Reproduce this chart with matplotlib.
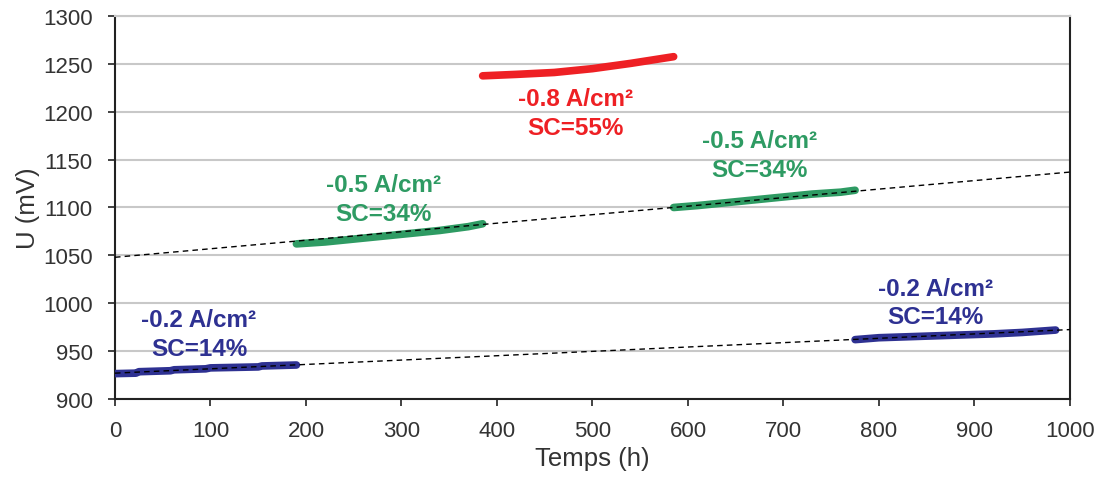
import matplotlib.pyplot as plt

plt.rcParams['font.family'] = ['Liberation Sans', 'DejaVu Sans']

# values (time in h, voltage in mV)
blue1_t = [0, 22, 25, 58, 62, 95, 100, 150, 154, 190]
blue1_u = [926.5, 927, 928.5, 929.5, 930.5, 931.5, 932.5, 933.5, 934.5, 935.5]
green1_t = [190, 220, 250, 280, 310, 340, 370, 385]
green1_u = [1062, 1064, 1067, 1070, 1073, 1076, 1080, 1083]
red_t = [385, 420, 460, 500, 540, 585]
red_u = [1237.5, 1239, 1241, 1245, 1250.5, 1257.5]
green2_t = [585, 610, 640, 670, 700, 730, 760, 775]
green2_u = [1100, 1102, 1105, 1108, 1111, 1114, 1116, 1118]
blue2_t = [775, 800, 830, 860, 890, 920, 950, 985]
blue2_u = [962, 964, 965, 966, 967, 968, 969.5, 972]

# dashed trend lines
trend_low_t = [0, 1000]
trend_low_u = [927, 972.5]
trend_high_t = [0, 1000]
trend_high_u = [1048, 1137]

BLUE = '#2e3192'
GREEN = '#2e9b63'
RED = '#ee2024'

fig = plt.figure(figsize=(10.99, 4.81), dpi=100)
ax = fig.add_axes([0.1046, 0.1684, 0.869, 0.7963])

for t, u, c in [(blue1_t, blue1_u, BLUE), (green1_t, green1_u, GREEN),
                (red_t, red_u, RED), (green2_t, green2_u, GREEN),
                (blue2_t, blue2_u, BLUE)]:
    ax.plot(t, u, color=c, lw=5.5, solid_capstyle='round', zorder=3)

ax.plot(trend_low_t, trend_low_u, ls=(0, (4, 3)), color='black', lw=1, zorder=4)
ax.plot(trend_high_t, trend_high_u, ls=(0, (4, 3)), color='black', lw=1, zorder=4)

labels = [
    (88, 968, '-0.2 A/cm²\nSC=14%', BLUE),
    (281, 1109, '-0.5 A/cm²\nSC=34%', GREEN),
    (482, 1198.5, '-0.8 A/cm²\nSC=55%', RED),
    (675, 1155, '-0.5 A/cm²\nSC=34%', GREEN),
    (859, 1000.5, '-0.2 A/cm²\nSC=14%', BLUE),
]
for x, y, s, c in labels:
    ax.text(x, y, s, color=c, fontsize=17.5, fontweight='bold',
            ha='center', va='center', linespacing=1.3)

ax.set_xlim(0, 1000)
ax.set_ylim(900, 1300)
ax.set_xticks(range(0, 1001, 100))
ax.set_yticks(range(900, 1301, 50))
ax.yaxis.grid(True, color='#c8c8c8', lw=1.5)
ax.set_axisbelow(True)
ax.tick_params(direction='out', length=5, width=1.2, labelsize=16,
               colors='#222222', labelcolor='#333333')
ax.tick_params(axis='x', pad=10)
ax.tick_params(axis='y', pad=11)
for side in ['left', 'bottom', 'right']:
    ax.spines[side].set_linewidth(1.5)
    ax.spines[side].set_color('#222222')
ax.spines['top'].set_color('#c8c8c8')
ax.spines['top'].set_linewidth(1.5)

ax.set_xlabel('Temps (h)', fontsize=18.5, color='#333333', labelpad=4)
ax.set_ylabel('U (mV)', fontsize=18.5, color='#333333', labelpad=2)

fig.savefig('out.png', dpi=100)
